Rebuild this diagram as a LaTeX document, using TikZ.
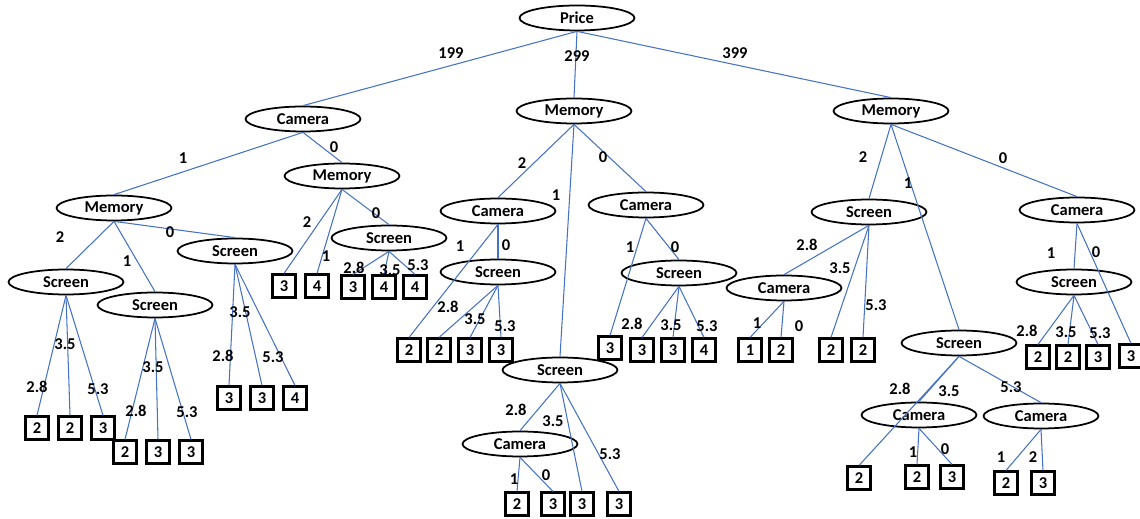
\documentclass[tikz,border=0pt]{standalone}
\usepackage{fontspec}
\setmainfont{Carlito}
\usepackage{tikz}
\usetikzlibrary{shapes.geometric}

\definecolor{edgeblue}{RGB}{68,114,196}
\newcommand{\treefont}{\bfseries\fontsize{9.4}{11}\selectfont}

\begin{document}
\begin{tikzpicture}[x=0.02cm,y=-0.02cm,
   attr/.style={draw,ellipse,line width=1pt,minimum width=2.3cm,minimum height=0.5cm,inner sep=0pt,font=\treefont},
   leaf/.style={draw,rectangle,line width=1.2pt,minimum size=0.46cm,inner sep=0pt,font=\treefont},
   lbl/.style={inner sep=0pt,font=\treefont},
   edge/.style={color=edgeblue,line width=0.6pt}]
   \useasboundingbox (0,0) rectangle (1140,519);
   % attribute nodes
   \node[attr] (price) at (577,18) {Price};
   \node[attr] (camL) at (303,119) {Camera};
   \node[attr] (memLL) at (114,208) {Memory};
   \node[attr] (memLR) at (342,176) {Memory};
   \node[attr] (scrLL1) at (66,282) {Screen};
   \node[attr] (scrLL2) at (155,305) {Screen};
   \node[attr] (scrLL3) at (235,251) {Screen};
   \node[attr] (scrLR) at (389,238) {Screen};
   \node[attr] (memM) at (574,111) {Memory};
   \node[attr] (camM1) at (498,211) {Camera};
   \node[attr] (scrM1) at (498,272) {Screen};
   \node[attr] (scrM2) at (560,370) {Screen};
   \node[attr] (camM2) at (520,444) {Camera};
   \node[attr] (camM3) at (646,205) {Camera};
   \node[attr] (scrM3) at (679,273) {Screen};
   \node[attr] (memR) at (891,111) {Memory};
   \node[attr] (scrR1) at (869,212) {Screen};
   \node[attr] (camR1) at (784,288) {Camera};
   \node[attr] (scrR2) at (959,343) {Screen};
   \node[attr] (camR2) at (919,415) {Camera};
   \node[attr] (camR3) at (1041,416) {Camera};
   \node[attr] (camR4) at (1077,210) {Camera};
   \node[attr] (scrR3) at (1074,282) {Screen};
   % leaves
   \node[leaf] (b1) at (37,428) {2};
   \node[leaf] (b2) at (70,428) {2};
   \node[leaf] (b3) at (103,428) {3};
   \node[leaf] (b4) at (125,452) {2};
   \node[leaf] (b5) at (158,452) {3};
   \node[leaf] (b6) at (191,452) {3};
   \node[leaf] (b7) at (229,398) {3};
   \node[leaf] (b8) at (262,398) {3};
   \node[leaf] (b9) at (295,398) {4};
   \node[leaf] (b10) at (284,286) {3};
   \node[leaf] (b11) at (317,286) {4};
   \node[leaf] (b12) at (353,287) {3};
   \node[leaf] (b13) at (384,287) {4};
   \node[leaf] (b14) at (415,287) {4};
   \node[leaf] (b15) at (409,350) {2};
   \node[leaf] (b16) at (439,350) {2};
   \node[leaf] (b17) at (470,350) {3};
   \node[leaf] (b18) at (501,350) {3};
   \node[leaf] (b19) at (517,504) {2};
   \node[leaf] (b20) at (553,504) {3};
   \node[leaf] (b21) at (582,504) {3};
   \node[leaf] (b22) at (619,504) {3};
   \node[leaf] (b23) at (610,348) {3};
   \node[leaf] (b24) at (642,350) {3};
   \node[leaf] (b25) at (673,350) {3};
   \node[leaf] (b26) at (704,350) {4};
   \node[leaf] (b27) at (750,350) {1};
   \node[leaf] (b28) at (781,350) {2};
   \node[leaf] (b29) at (831,350) {2};
   \node[leaf] (b30) at (863,350) {2};
   \node[leaf] (b31) at (859,478) {2};
   \node[leaf] (b32) at (917,477) {2};
   \node[leaf] (b33) at (952,477) {3};
   \node[leaf] (b34) at (1006,483) {2};
   \node[leaf] (b35) at (1043,483) {3};
   \node[leaf] (b36) at (1038,357) {2};
   \node[leaf] (b37) at (1068,357) {2};
   \node[leaf] (b38) at (1098,357) {3};
   \node[leaf] (b39) at (1131,356) {3};
   % branches
   \draw[edge] (price.south) -- (camL.north);
   \draw[edge] (price.south) -- (memM.north);
   \draw[edge] (price.south) -- (memR.north);
   \draw[edge] (camL.south) -- (memLL.north);
   \draw[edge] (camL.south) -- (memLR.north);
   \draw[edge] (memLL.south) -- (scrLL1.north);
   \draw[edge] (memLL.south) -- (scrLL2.north);
   \draw[edge] (memLL.south) -- (scrLL3.north);
   \draw[edge] (scrLL1.south) -- (b1.north);
   \draw[edge] (scrLL1.south) -- (b2.north);
   \draw[edge] (scrLL1.south) -- (b3.north);
   \draw[edge] (scrLL2.south) -- (b4.north);
   \draw[edge] (scrLL2.south) -- (b5.north);
   \draw[edge] (scrLL2.south) -- (b6.north);
   \draw[edge] (scrLL3.south) -- (b7.north);
   \draw[edge] (scrLL3.south) -- (b8.north);
   \draw[edge] (scrLL3.south) -- (b9.north);
   \draw[edge] (memLR.south) -- (b10.north);
   \draw[edge] (memLR.south) -- (b11.north);
   \draw[edge] (memLR.south) -- (scrLR.north);
   \draw[edge] (scrLR.south) -- (b12.north);
   \draw[edge] (scrLR.south) -- (b13.north);
   \draw[edge] (scrLR.south) -- (b14.north);
   \draw[edge] (memM.south) -- (camM1.north);
   \draw[edge] (memM.south) -- (scrM2.north);
   \draw[edge] (memM.south) -- (camM3.north);
   \draw[edge] (camM1.south) -- (b15.north);
   \draw[edge] (camM1.south) -- (scrM1.north);
   \draw[edge] (scrM1.south) -- (b16.north);
   \draw[edge] (scrM1.south) -- (b17.north);
   \draw[edge] (scrM1.south) -- (b18.north);
   \draw[edge] (scrM2.south) -- (camM2.north);
   \draw[edge] (scrM2.south) -- (b21.north);
   \draw[edge] (scrM2.south) -- (b22.north);
   \draw[edge] (camM2.south) -- (b19.north);
   \draw[edge] (camM2.south) -- (b20.north);
   \draw[edge] (camM3.south) -- (b23.north);
   \draw[edge] (camM3.south) -- (scrM3.north);
   \draw[edge] (scrM3.south) -- (b24.north);
   \draw[edge] (scrM3.south) -- (b25.north);
   \draw[edge] (scrM3.south) -- (b26.north);
   \draw[edge] (memR.south) -- (scrR1.north);
   \draw[edge] (memR.south) -- (scrR2.north);
   \draw[edge] (memR.south) -- (camR4.north);
   \draw[edge] (scrR1.south) -- (camR1.north);
   \draw[edge] (scrR1.south) -- (b29.north);
   \draw[edge] (scrR1.south) -- (b30.north);
   \draw[edge] (camR1.south) -- (b27.north);
   \draw[edge] (camR1.south) -- (b28.north);
   \draw[edge] (scrR2.south) -- (b31.north);
   \draw[edge] (scrR2.south) -- (camR2.north);
   \draw[edge] (scrR2.south) -- (camR3.north);
   \draw[edge] (camR2.south) -- (b32.north);
   \draw[edge] (camR2.south) -- (b33.north);
   \draw[edge] (camR3.south) -- (b34.north);
   \draw[edge] (camR3.south) -- (b35.north);
   \draw[edge] (camR4.south) -- (scrR3.north);
   \draw[edge] (camR4.south) -- (b39.north);
   \draw[edge] (scrR3.south) -- (b36.north);
   \draw[edge] (scrR3.south) -- (b37.north);
   \draw[edge] (scrR3.south) -- (b38.north);
   % branch values
   \node[lbl] (price-199) at (451,53) {199};
   \node[lbl] (price-299) at (577,56) {299};
   \node[lbl] (price-399) at (735,53) {399};
   \node[lbl] (camL-1) at (183,158) {1};
   \node[lbl] (camL-0) at (334,147) {0};
   \node[lbl] (memLL-2) at (60,237) {2};
   \node[lbl] (memLL-1) at (127,261) {1};
   \node[lbl] (memLL-0) at (170,232) {0};
   \node[lbl] (scrLL1-28) at (37,387) {2.8};
   \node[lbl] (scrLL1-35) at (65,344) {3.5};
   \node[lbl] (scrLL1-53) at (98,389) {5.3};
   \node[lbl] (scrLL2-28) at (136,411) {2.8};
   \node[lbl] (scrLL2-35) at (153,367) {3.5};
   \node[lbl] (scrLL2-53) at (187,412) {5.3};
   \node[lbl] (scrLL3-28) at (223,356) {2.8};
   \node[lbl] (scrLL3-35) at (240,312) {3.5};
   \node[lbl] (scrLL3-53) at (273,357) {5.3};
   \node[lbl] (memLR-2) at (307,222) {2};
   \node[lbl] (memLR-1) at (326,256) {1};
   \node[lbl] (memLR-0) at (376,213) {0};
   \node[lbl] (scrLR-28) at (354,268) {2.8};
   \node[lbl] (scrLR-35) at (390,270) {3.5};
   \node[lbl] (scrLR-53) at (418,265) {5.3};
   \node[lbl] (memM-2) at (522,163) {2};
   \node[lbl] (memM-1) at (556,195) {1};
   \node[lbl] (memM-0) at (603,157) {0};
   \node[lbl] (camM1-1) at (460,246) {1};
   \node[lbl] (camM1-0) at (506,245) {0};
   \node[lbl] (scrM1-28) at (448,307) {2.8};
   \node[lbl] (scrM1-35) at (475,319) {3.5};
   \node[lbl] (scrM1-53) at (505,326) {5.3};
   \node[lbl] (scrM2-28) at (516,410) {2.8};
   \node[lbl] (scrM2-35) at (553,421) {3.5};
   \node[lbl] (scrM2-53) at (610,454) {5.3};
   \node[lbl] (camM2-1) at (514,479) {1};
   \node[lbl] (camM2-0) at (546,475) {0};
   \node[lbl] (camM3-1) at (630,247) {1};
   \node[lbl] (camM3-0) at (675,247) {0};
   \node[lbl] (scrM3-28) at (632,324) {2.8};
   \node[lbl] (scrM3-35) at (671,325) {3.5};
   \node[lbl] (scrM3-53) at (707,326) {5.3};
   \node[lbl] (memR-2) at (863,157) {2};
   \node[lbl] (memR-1) at (908,183) {1};
   \node[lbl] (memR-0) at (1003,158) {0};
   \node[lbl] (scrR1-28) at (807,245) {2.8};
   \node[lbl] (scrR1-35) at (840,268) {3.5};
   \node[lbl] (scrR1-53) at (876,305) {5.3};
   \node[lbl] (camR1-1) at (757,323) {1};
   \node[lbl] (camR1-0) at (799,326) {0};
   \node[lbl] (scrR2-28) at (900,389) {2.8};
   \node[lbl] (scrR2-35) at (949,391) {3.5};
   \node[lbl] (scrR2-53) at (1011,387) {5.3};
   \node[lbl] (camR2-1) at (913,452) {1};
   \node[lbl] (camR2-0) at (945,449) {0};
   \node[lbl] (camR3-1) at (1001,457) {1};
   \node[lbl] (camR3-2) at (1033,457) {2};
   \node[lbl] (camR4-1) at (1051,253) {1};
   \node[lbl] (camR4-0) at (1096,252) {0};
   \node[lbl] (scrR3-28) at (1027,331) {2.8};
   \node[lbl] (scrR3-35) at (1066,332) {3.5};
   \node[lbl] (scrR3-53) at (1100,333) {5.3};
\end{tikzpicture}
\end{document}
